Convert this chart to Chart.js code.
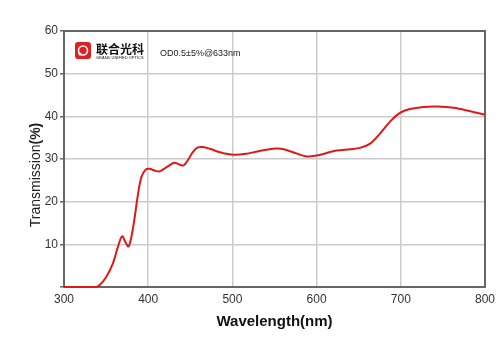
<!DOCTYPE html>
<html>
<head>
<meta charset="UTF-8">
<title>Transmission</title>
<script src="https://cdn.jsdelivr.net/npm/chart.js"></script>
<style>
    body { margin: 0; background: #fff; }
    #wrap { width: 500px; height: 353px; }
</style>
</head>
<body>
<div id="wrap"><canvas id="grafico"></canvas></div>
<script>
// wavelength (nm) and transmission (%)
var wavelength = [300, 320, 338, 342, 350, 358, 364, 369, 373, 376.6, 380, 384, 388, 392, 397, 401.6, 407.5, 413.5, 421, 431, 437, 442, 447, 453, 459, 465, 473, 485, 501, 517, 532.5, 548, 558, 572, 588, 600, 612, 624, 640, 651.6, 663.5, 675, 687, 699, 711, 727, 743, 763, 782.5, 800];
var transmission = [0, 0, 0, 0.4, 2.3, 5.5, 9.4, 11.9, 10.5, 9.5, 11.7, 16.4, 21.9, 25.8, 27.5, 27.7, 27.3, 27.1, 28, 29.1, 28.7, 28.5, 29.7, 31.6, 32.7, 32.8, 32.4, 31.6, 31, 31.25, 31.9, 32.4, 32.4, 31.6, 30.6, 30.8, 31.4, 32, 32.3, 32.6, 33.6, 35.9, 38.7, 40.8, 41.7, 42.2, 42.3, 42, 41.2, 40.4];
var xTicks = [300, 400, 500, 600, 700, 800];
var yTicks = [0, 10, 20, 30, 40, 50, 60];

var pontos = wavelength.map(function (w, i) { return { x: w, y: transmission[i] }; });

var extras = {
    id: 'extras',
    beforeDatasetsDraw: function (chart) {
        var ctx = chart.ctx;
        var a = chart.chartArea;
        ctx.save();
        // frame
        ctx.strokeStyle = '#666';
        ctx.lineWidth = 2;
        ctx.strokeRect(a.left, a.top, a.right - a.left, a.bottom - a.top);
        ctx.restore();
    },
    afterDraw: function (chart) {
        var ctx = chart.ctx;
        ctx.save();
        // y title
        ctx.translate(36, 175);
        ctx.rotate(-Math.PI / 2);
        ctx.fillStyle = '#222';
        ctx.textBaseline = 'middle';
        ctx.font = '14px "Liberation Sans", Arial';
        var t1 = 'Transmission';
        var w1 = ctx.measureText(t1).width;
        ctx.font = 'bold 14px "Liberation Sans", Arial';
        var w2 = ctx.measureText('(%)').width;
        var start = -(w1 + w2) / 2;
        ctx.font = '14px "Liberation Sans", Arial';
        ctx.textAlign = 'left';
        ctx.fillText(t1, start, 0);
        ctx.font = 'bold 14px "Liberation Sans", Arial';
        ctx.fillText('(%)', start + w1, 0);
        ctx.setTransform(1, 0, 0, 1, 0, 0);

        // logo
        ctx.fillStyle = '#e02020';
        ctx.beginPath();
        ctx.roundRect(75, 42, 16, 17, 3);
        ctx.fill();
        ctx.strokeStyle = '#fff';
        ctx.lineWidth = 1.6;
        ctx.beginPath();
        ctx.arc(83, 50.5, 4.5, 0, Math.PI * 2);
        ctx.stroke();
        ctx.fillStyle = '#fff';
        ctx.beginPath();
        ctx.arc(80, 54, 1.5, 0, Math.PI * 2);
        ctx.fill();

        ctx.fillStyle = '#111';
        ctx.textAlign = 'left';
        ctx.textBaseline = 'alphabetic';
        ctx.font = 'bold 12px "Noto Sans CJK SC"';
        ctx.fillText('联合光科', 96, 54);
        ctx.font = '4px "Liberation Sans", Arial';
        ctx.fillText('GRAND UNIFIED OPTICS', 96, 59);

        ctx.font = '9px "Liberation Sans", Arial';
        ctx.fillStyle = '#222';
        ctx.fillText('OD0.5±5%@633nm', 160, 56);
        ctx.restore();
    }
};

new Chart(document.getElementById('grafico'), {
    type: 'line',
    data: {
        datasets: [{
            data: pontos,
            borderColor: '#e01818',
            borderWidth: 2,
            pointRadius: 0,
            tension: 0.35,
            clip: 3,
            fill: false
        }]
    },
    options: {
        responsive: true,
        maintainAspectRatio: false,
        animation: false,
        layout: { padding: { left: 0, right: 15, top: 31, bottom: 18 } },
        plugins: {
            legend: { display: false },
            tooltip: { enabled: false }
        },
        scales: {
            x: {
                type: 'linear',
                min: 300,
                max: 800,
                afterFit: function (s) { s.height = 48; },
                afterBuildTicks: function (s) { s.ticks = xTicks.map(function (v) { return { value: v }; }); },
                grid: { color: '#cccccc', lineWidth: 1.5, tickLength: 0, drawTicks: false },
                border: { display: false },
                ticks: {
                    padding: 5,
                    color: '#333',
                    font: { family: '"Liberation Sans", Arial', size: 12 },
                    maxRotation: 0
                },
                title: {
                    display: true,
                    text: 'Wavelength(nm)',
                    color: '#111',
                    font: { family: '"Liberation Sans", Arial', size: 15, weight: 'bold' },
                    padding: { top: 8 }
                }
            },
            y: {
                min: 0,
                max: 60,
                afterFit: function (s) { s.width = 64; },
                afterBuildTicks: function (s) { s.ticks = yTicks.map(function (v) { return { value: v }; }); },
                grid: { color: '#cccccc', lineWidth: 1.5, tickLength: 4, tickColor: '#666' },
                border: { display: false },
                ticks: {
                    padding: 2,
                    color: '#333',
                    font: { family: '"Liberation Sans", Arial', size: 12 },
                    callback: function (v) { return v === 0 ? '' : v; }
                }
            }
        }
    },
    plugins: [extras]
});
</script>
</body>
</html>
